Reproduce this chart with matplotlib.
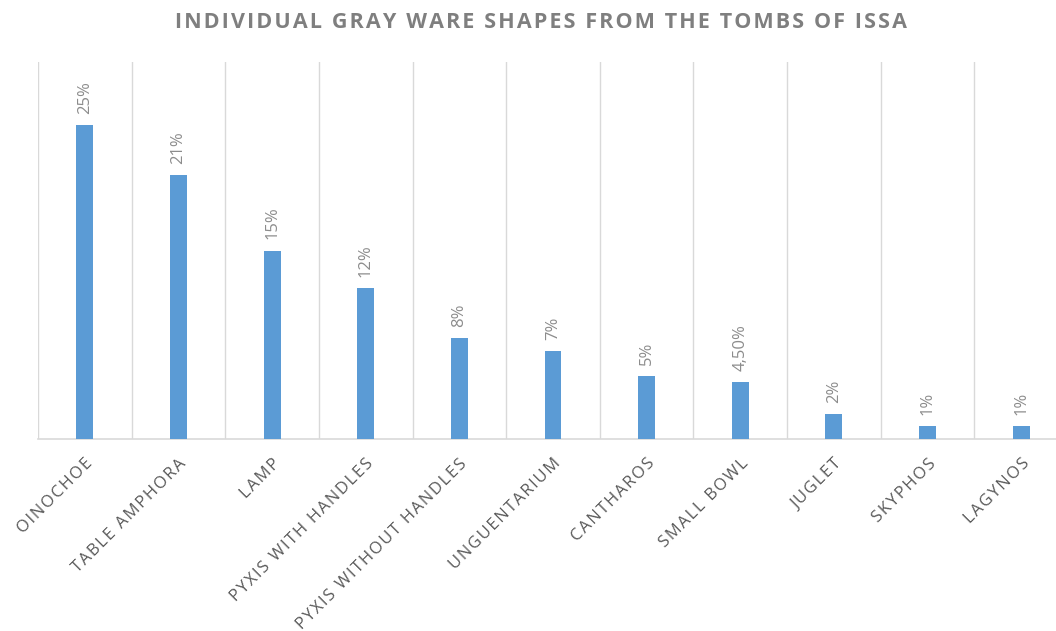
import numpy as np
import matplotlib.pyplot as plt

# Gray ware shapes and their share of the assemblage (%)
shapes = ['OINOCHOE', 'TABLE AMPHORA', 'LAMP', 'PYXIS WITH HANDLES',
          'PYXIS WITHOUT HANDLES', 'UNGUENTARIUM', 'CANTHAROS', 'SMALL BOWL',
          'JUGLET', 'SKYPHOS', 'LAGYNOS']
shares = [25, 21, 15, 12, 8, 7, 5, 4.5, 2, 1, 1]


def pct_label(v):
    if float(v).is_integer():
        return f"{v:.0f}%"
    return f"{v:.2f}%".replace('.', ',')


def spaced(s):
    # loose tracking with hair spaces
    return '\u200a'.join(s)


plt.rcParams['font.family'] = ['Open Sans', 'DejaVu Sans']

fig = plt.figure(figsize=(10.56, 6.31), dpi=100)
# plot area runs slightly past the right edge of the image
ax = fig.add_axes([38 / 1056, 1 - 439 / 631, 1030 / 1056, 377 / 631])

x = np.arange(len(shapes))
ax.bar(x, shares, width=0.18, color='#5B9BD5', zorder=3)

for xi, v in zip(x, shares):
    ax.annotate(pct_label(v), (xi, v), xytext=(0, 8), textcoords='offset points',
                rotation=90, ha='center', va='bottom', fontsize=12,
                color='#8C8C8C')

ax.set_xlim(-0.5, len(shapes) - 0.5)
ax.set_ylim(0, 30)
ax.set_yticks([])

# vertical gridlines between categories
for b in np.arange(-0.5, len(shapes), 1.0):
    ax.axvline(b, color='#D9D9D9', lw=1, zorder=1)

ax.set_xticks(x)
ax.set_xticklabels([spaced(s) for s in shapes], rotation=45, ha='right',
                   rotation_mode='anchor', fontsize=12, color='#595959')
ax.tick_params(axis='x', length=0, pad=12)

for s in ['top', 'right', 'left']:
    ax.spines[s].set_visible(False)
ax.spines['bottom'].set_color('#D9D9D9')
ax.spines['bottom'].set_linewidth(1.2)

fig.text(541 / 1056, 1 - 23 / 631,
         spaced('INDIVIDUAL GRAY WARE SHAPES FROM THE TOMBS OF ISSA'),
         ha='center', va='center', fontsize=15.5, fontweight='bold', color='#7F7F7F')

fig.savefig('out.png', dpi=100)
